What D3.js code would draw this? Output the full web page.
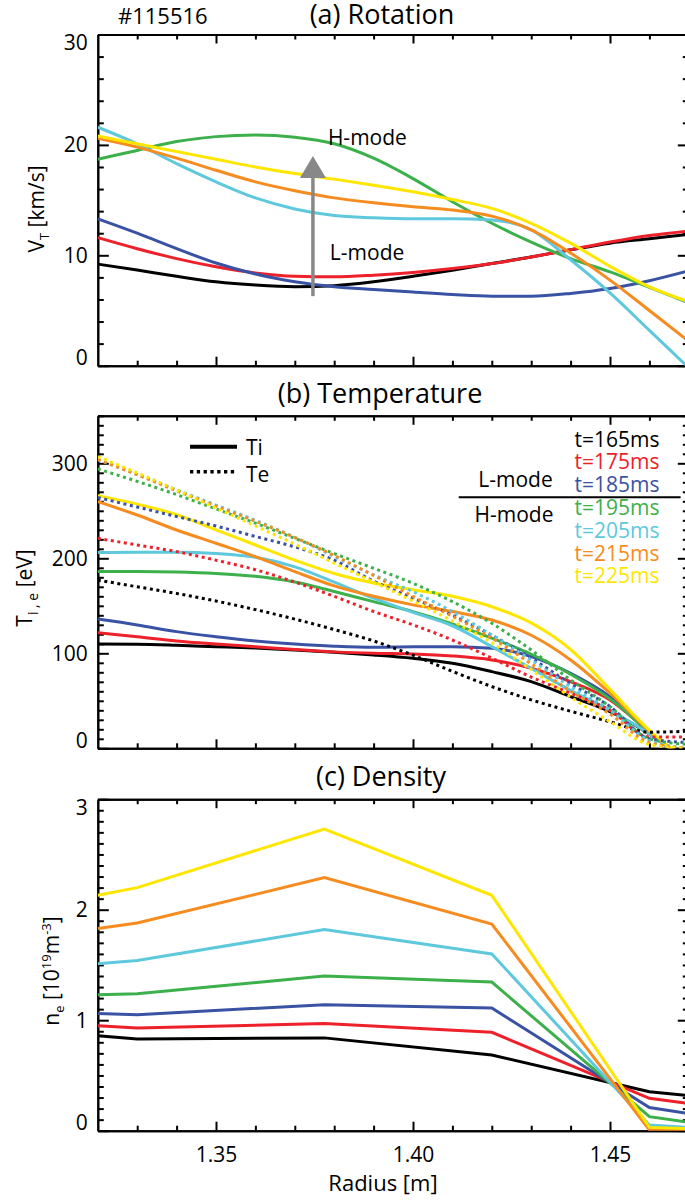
<!DOCTYPE html>
<html>
<head>
<meta charset="utf-8">
<script src="https://cdn.jsdelivr.net/npm/d3@7"></script>
<style>
  body { margin: 0; background: #fff; }
  svg text { font-family: "Open Sans", sans-serif; font-size: 21px; fill: #000; }
  .axis path, .axis line { stroke: #000; stroke-width: 2; }
</style>
</head>
<body>
<svg id="chart" width="685" height="1200"></svg>
<script>
// Radius grid [m] used by the smooth profiles (a) and (b)
var radius = [1.32, 1.33, 1.34, 1.35, 1.36, 1.37, 1.38, 1.39, 1.40, 1.41, 1.42, 1.43, 1.44, 1.45, 1.46, 1.47];

// Time slices
var times = ["t=165ms", "t=175ms", "t=185ms", "t=195ms", "t=205ms", "t=215ms", "t=225ms"];
var colors = ["#000000", "#ee2029", "#3a52a3", "#3cb04a", "#5ec8dc", "#f68b1f", "#ffe600"];

// (a) toroidal rotation V_T [km/s], one row per time slice
var rotation = [
  [9.2, 8.66, 8.1, 7.6, 7.3, 7.15, 7.25, 7.6, 8.1, 8.65, 9.25, 9.85, 10.5, 11.1, 11.5, 11.9],
  [11.6, 10.6, 9.7, 8.96, 8.4, 8.1, 8.05, 8.2, 8.45, 8.8, 9.25, 9.85, 10.5, 11.2, 11.8, 12.2],
  [13.3, 12.0, 10.6, 9.3, 8.3, 7.6, 7.15, 6.9, 6.67, 6.45, 6.3, 6.3, 6.55, 7.0, 7.7, 8.6],
  [18.7, 19.5, 20.3, 20.75, 20.9, 20.7, 20.1, 18.8, 16.95, 14.85, 12.9, 11.2, 9.7, 8.5, 7.1, 5.7],
  [21.6, 20.1, 18.3, 16.65, 15.2, 14.2, 13.6, 13.4, 13.3, 13.3, 13.2, 12.3, 9.6, 6.6, 3.2, -0.2],
  [20.6, 19.8, 18.8, 17.7, 16.65, 15.85, 15.2, 14.75, 14.4, 14.1, 13.55, 12.3, 10.2, 7.75, 5.0, 2.2],
  [20.8, 20.1, 19.4, 18.7, 18.0, 17.4, 16.9, 16.35, 15.75, 15.05, 14.25, 12.9, 11.1, 9.0, 7.15, 5.8]
];

// (b) ion temperature Ti [eV]
var ionTemp = [
  [109.8, 109.5, 108.4, 107, 105.6, 103.5, 101, 98.2, 94.7, 89.5, 80.7, 70.2, 54.4, 38.6, 15, -15],
  [121.7, 117.5, 113, 109.8, 107, 104, 101.5, 100, 99.3, 97.2, 93, 84.2, 70.2, 50.9, 17, -15],
  [136, 129.8, 122.8, 117.5, 113, 109.8, 107.5, 106.3, 107, 107, 105.3, 96.5, 79, 54.4, 17, -15],
  [186, 186, 185.5, 184, 181, 175, 165, 154.4, 143.9, 131, 116, 99, 78, 52, 17, -15],
  [206, 206.5, 206.5, 205, 201, 191, 175, 158, 143, 129, 107, 84, 61, 40, 15, -15],
  [259.6, 245.6, 229.8, 215.8, 201.7, 186, 171, 160, 151, 144, 135, 119, 93, 58, 18, -15],
  [266, 257, 246, 230, 214, 198, 184, 174, 167, 160, 149, 132, 104, 62, 19, -15]
];

// (b) electron temperature Te [eV]
var electronTemp = [
  [177, 170, 163, 155, 146, 136, 125, 113, 98, 81, 65, 51, 39, 28, 17, 18],
  [221, 214, 207, 198, 188, 175, 160, 144, 130, 114, 95, 75, 58, 40, 12, 12],
  [264, 254, 244, 234, 223, 212, 198, 176, 158, 140, 119, 95, 68, 44, 10, 6],
  [294, 281, 267, 252, 237, 221, 205, 189.5, 173.7, 154.4, 131.6, 103.5, 72, 43.9, 10, 4],
  [304, 288, 272, 256, 240, 222, 202, 182.5, 164.9, 143.9, 119.3, 93, 64.9, 40.3, 8, 0],
  [304, 288, 271, 255, 239, 222, 203, 182, 160, 139, 116, 89, 60, 36, 6, 0],
  [307, 290, 272, 253, 234, 215, 195, 175, 155, 134, 111, 83, 54, 28, 4, 0]
];

// (c) density n_e [1e19 m^-3] at the measurement radii
var densityRadius = [1.32, 1.33, 1.3775, 1.42, 1.46, 1.47];
var density = [
  [0.86, 0.83, 0.84, 0.685, 0.353, 0.318],
  [0.95, 0.93, 0.97, 0.89, 0.293, 0.247],
  [1.06, 1.05, 1.14, 1.11, 0.21, 0.155],
  [1.23, 1.24, 1.40, 1.345, 0.127, 0.075],
  [1.51, 1.54, 1.82, 1.60, 0.052, 0.03],
  [1.83, 1.88, 2.29, 1.87, 0.006, 0.0],
  [2.13, 2.20, 2.73, 2.13, 0.03, 0.02]
];

// Tick labels
var xTicks = [1.35, 1.40, 1.45];
var xTickLabels = ["1.35", "1.40", "1.45"];
var rotTicks = [0, 10, 20, 30];
var rotTickLabels = ["0", "10", "20", "30"];
var tempTicks = [0, 100, 200, 300];
var tempTickLabels = ["0", "100", "200", "300"];
var densTicks = [0, 1, 2, 3];
var densTickLabels = ["0", "1", "2", "3"];

var svg = d3.select("#chart");

// shared radius scale
var x = d3.scaleLinear()
    .domain([1.32, 1.47])
    .range([97.8, 688.8]);

var xMinor = d3.range(1.33, 1.4701, 0.01).filter(function(d) {
  return xTicks.every(function(t) { return Math.abs(t - d) > 1e-6; });
});

var yRot = d3.scaleLinear().domain([0, 30]).range([365.7, 34.5]);
var yTemp = d3.scaleLinear().domain([0, 350]).range([748.3, 415.8]);
var yDens = d3.scaleLinear().domain([0, 3]).range([1130.7, 799.2]);

// draw the box with inward ticks on all four sides
function frame(id, y, major, labels, minorStep, showX) {
  var x0 = x.range()[0], x1 = x.range()[1];
  var yb = y.range()[0], yt = y.range()[1];
  var dom = y.domain();
  var minor = d3.range(dom[0], dom[1] + 1e-6, minorStep).filter(function(d) {
    return major.every(function(t) { return Math.abs(t - d) > 1e-6; });
  });

  var left = svg.append("g")
      .attr("class", "axis")
      .attr("transform", "translate(" + x0 + ",0)")
      .call(d3.axisLeft(y).tickValues(major).tickSize(-11).tickSizeOuter(0).tickPadding(10)
        .tickFormat(function(d, i) { return labels[i]; }));
  left.selectAll("text")
      .attr("dy", function(d) {
        if (d === dom[0]) return "-0.05em";
        if (d === dom[1]) return "0.72em";
        return "0.33em";
      });
  svg.append("g")
      .attr("class", "axis")
      .attr("transform", "translate(" + x0 + ",0)")
      .call(d3.axisLeft(y).tickValues(minor).tickSize(-6).tickSizeOuter(0).tickFormat(""));

  svg.append("g")
      .attr("class", "axis")
      .attr("transform", "translate(" + x1 + ",0)")
      .call(d3.axisRight(y).tickValues(major).tickSize(-11).tickSizeOuter(0).tickFormat(""));
  svg.append("g")
      .attr("class", "axis")
      .attr("transform", "translate(" + x1 + ",0)")
      .call(d3.axisRight(y).tickValues(minor).tickSize(-6).tickSizeOuter(0).tickFormat(""));

  svg.append("g")
      .attr("class", "axis")
      .attr("transform", "translate(0," + yb + ")")
      .call(d3.axisBottom(x).tickValues(xTicks).tickSize(-9).tickSizeOuter(0).tickPadding(16)
        .tickFormat(function(d, i) { return showX ? xTickLabels[i] : ""; }));
  svg.append("g")
      .attr("class", "axis")
      .attr("transform", "translate(0," + yb + ")")
      .call(d3.axisBottom(x).tickValues(xMinor).tickSize(-5).tickSizeOuter(0).tickFormat(""));

  svg.append("g")
      .attr("class", "axis")
      .attr("transform", "translate(0," + yt + ")")
      .call(d3.axisTop(x).tickValues(xTicks).tickSize(-9).tickSizeOuter(0).tickFormat(""));
  svg.append("g")
      .attr("class", "axis")
      .attr("transform", "translate(0," + yt + ")")
      .call(d3.axisTop(x).tickValues(xMinor).tickSize(-5).tickSizeOuter(0).tickFormat(""));

  svg.selectAll(".axis text").style("font-size", "21px");

  svg.append("clipPath")
      .attr("id", id)
    .append("rect")
      .attr("x", x0)
      .attr("y", yt)
      .attr("width", x1 - x0)
      .attr("height", yb - yt);

  return svg.append("g").attr("clip-path", "url(#" + id + ")");
}

// ---------- (a) Rotation ----------
svg.append("text").attr("x", 118).attr("y", 24).style("font-size", "22px").text("#115516");
svg.append("text").attr("x", 382).attr("y", 24).attr("text-anchor", "middle")
    .style("font-size", "27px").text("(a) Rotation");

var plotA = frame("clipA", yRot, rotTicks, rotTickLabels, 2, false);

var lineA = d3.line()
    .curve(d3.curveMonotoneX)
    .x(function(d, i) { return x(radius[i]); })
    .y(function(d) { return yRot(d); });

plotA.selectAll(".rot")
    .data(rotation)
  .enter().append("path")
    .attr("class", "rot")
    .attr("d", lineA)
    .style("fill", "none")
    .style("stroke", function(d, i) { return colors[i]; })
    .style("stroke-width", 3);

// L-mode -> H-mode arrow
var arrowR = 1.3746, arrowFrom = 6.3, arrowTo = 19.0;
var ax = x(arrowR), tipY = yRot(arrowTo);
svg.append("line")
    .attr("x1", ax).attr("x2", ax)
    .attr("y1", yRot(arrowFrom)).attr("y2", tipY + 20)
    .style("stroke", "#888888")
    .style("stroke-width", 3.5);
svg.append("path")
    .attr("d", "M" + ax + "," + tipY + "L" + (ax + 13) + "," + (tipY + 22) + "L" + (ax - 13) + "," + (tipY + 22) + "Z")
    .style("fill", "#888888");

svg.append("text").attr("x", x(1.3784)).attr("y", yRot(20)).text("H-mode");
svg.append("text").attr("x", x(1.3789)).attr("y", yRot(9.55)).text("L-mode");

var labA = svg.append("text")
    .attr("transform", "translate(44," + 209 + ") rotate(-90)")
    .attr("text-anchor", "middle");
labA.append("tspan").text("V");
labA.append("tspan").attr("dy", 5).style("font-size", "13px").text("T");
labA.append("tspan").attr("dy", -5).text(" [km/s]");

// ---------- (b) Temperature ----------
svg.append("text").attr("x", 380).attr("y", 403).attr("text-anchor", "middle")
    .style("font-size", "27px").text("(b) Temperature");

var plotB = frame("clipB", yTemp, tempTicks, tempTickLabels, 10, false);

var lineB = d3.line()
    .curve(d3.curveMonotoneX)
    .x(function(d, i) { return x(radius[i]); })
    .y(function(d) { return yTemp(d); });

plotB.selectAll(".ti")
    .data(ionTemp)
  .enter().append("path")
    .attr("class", "ti")
    .attr("d", lineB)
    .style("fill", "none")
    .style("stroke", function(d, i) { return colors[i]; })
    .style("stroke-width", 3);

plotB.selectAll(".te")
    .data(electronTemp)
  .enter().append("path")
    .attr("class", "te")
    .attr("d", lineB)
    .style("fill", "none")
    .style("stroke", function(d, i) { return colors[i]; })
    .style("stroke-width", 3)
    .style("stroke-dasharray", "3,3.6");

// Ti / Te legend
svg.append("line").attr("x1", 190).attr("x2", 237).attr("y1", 446.7).attr("y2", 446.7)
    .style("stroke", "#000").style("stroke-width", 4);
svg.append("line").attr("x1", 190).attr("x2", 237).attr("y1", 471.7).attr("y2", 471.7)
    .style("stroke", "#000").style("stroke-width", 3.5).style("stroke-dasharray", "3.3,3.5");
svg.append("text").attr("x", 246).attr("y", 455).text("Ti");
svg.append("text").attr("x", 246).attr("y", 481.5).text("Te");

// time legend
svg.selectAll(".tlab")
    .data(times)
  .enter().append("text")
    .attr("class", "tlab")
    .attr("x", 659.5)
    .attr("y", function(d, i) { return 446.6 + i * 22.8; })
    .attr("text-anchor", "end")
    .style("fill", function(d, i) { return colors[i]; })
    .text(function(d) { return d; });

svg.append("text").attr("x", 515.5).attr("y", 486.5).attr("text-anchor", "middle").text("L-mode");
svg.append("text").attr("x", 514).attr("y", 521.5).attr("text-anchor", "middle").text("H-mode");
svg.append("line").attr("x1", 458.7).attr("x2", 680.6).attr("y1", 497.3).attr("y2", 497.3)
    .style("stroke", "#000").style("stroke-width", 2);

var labB = svg.append("text")
    .attr("transform", "translate(31.5," + 588 + ") rotate(-90)")
    .attr("text-anchor", "middle");
labB.append("tspan").text("T");
labB.append("tspan").attr("dy", 6).style("font-size", "14px").text("i , e");
labB.append("tspan").attr("dy", -6).text(" [eV]");

// ---------- (c) Density ----------
svg.append("text").attr("x", 381).attr("y", 786).attr("text-anchor", "middle")
    .style("font-size", "27px").text("(c) Density");

var plotC = frame("clipC", yDens, densTicks, densTickLabels, 0.1, true);

var lineC = d3.line()
    .x(function(d, i) { return x(densityRadius[i]); })
    .y(function(d) { return yDens(d); });

plotC.selectAll(".ne")
    .data(density)
  .enter().append("path")
    .attr("class", "ne")
    .attr("d", lineC)
    .style("fill", "none")
    .style("stroke", function(d, i) { return colors[i]; })
    .style("stroke-width", 3);

var labC = svg.append("text")
    .attr("transform", "translate(59," + 971 + ") rotate(-90)")
    .attr("text-anchor", "middle");
labC.append("tspan").text("n");
labC.append("tspan").attr("dy", 5).style("font-size", "13px").text("e");
labC.append("tspan").attr("dy", -5).text(" [10");
labC.append("tspan").attr("dy", -8).style("font-size", "13px").text("19");
labC.append("tspan").attr("dy", 8).text("m");
labC.append("tspan").attr("dy", -8).style("font-size", "13px").text("-3");
labC.append("tspan").attr("dy", 8).text("]");

svg.append("text").attr("x", 383).attr("y", 1191).attr("text-anchor", "middle")
    .style("font-size", "22px").text("Radius [m]");
</script>
</body>
</html>
